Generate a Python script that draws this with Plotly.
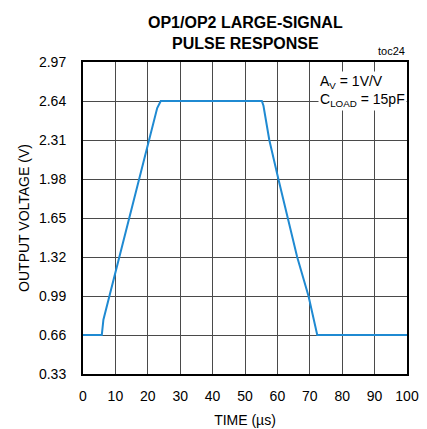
import plotly.graph_objects as go

# Data
time_us = [0, 5.8, 6.3, 11.2, 20.2, 22.9, 24.0, 55.2, 55.7, 57.5, 60.3, 63.2, 66.1, 69.6, 72.3, 100]
voltage = [0.66, 0.66, 0.79, 1.32, 2.31, 2.58, 2.64, 2.64, 2.60, 2.31, 1.98, 1.65, 1.32, 0.99, 0.66, 0.66]

x_ticks = [0, 10, 20, 30, 40, 50, 60, 70, 80, 90, 100]
y_ticks = [0.33, 0.66, 0.99, 1.32, 1.65, 1.98, 2.31, 2.64, 2.97]
y_tick_labels = ["0.33", "0.66", "0.99", "1.32", "1.65", "1.98", "2.31", "2.64", "2.97"]

FONT = "Liberation Sans Narrow, Arial Narrow, Liberation Sans, Arial, sans-serif"

fig = go.Figure()
fig.add_trace(go.Scatter(x=time_us, y=voltage, mode="lines",
                         line=dict(color="#1f8ad2", width=2), showlegend=False))

fig.update_layout(
    width=427, height=429,
    margin=dict(l=83, r=20, t=62, b=55, autoexpand=False),
    paper_bgcolor="white", plot_bgcolor="white",
    font=dict(family=FONT, color="black", size=14),
)

fig.update_xaxes(range=[0, 100], tickvals=x_ticks, showgrid=True, automargin=False,
                 gridcolor="#4a4a4a", gridwidth=1, showline=True, linecolor="black",
                 linewidth=2, mirror=True, zeroline=False, ticks="",
                 ticklabelstandoff=8,
                 title=dict(text="TIME (µs)", font=dict(size=14), standoff=12),
                 tickfont=dict(size=14))
fig.update_yaxes(range=[0.33, 2.97], tickvals=y_ticks, ticktext=y_tick_labels,
                 showgrid=True, gridcolor="#4a4a4a", gridwidth=1, showline=True,
                 automargin=False,
                 linecolor="black", linewidth=2, mirror=True, zeroline=False, ticks="",
                 ticklabelstandoff=12,
                 title=dict(text="OUTPUT VOLTAGE (V)", font=dict(size=14), standoff=6),
                 tickfont=dict(size=14))

fig.add_annotation(text="<b>OP1/OP2 LARGE-SIGNAL</b>", xref="paper", yref="paper",
                   x=0.5, y=1.128, xanchor="center", yanchor="middle", showarrow=False,
                   font=dict(family=FONT, size=16, color="black"))
fig.add_annotation(text="<b>PULSE RESPONSE</b>", xref="paper", yref="paper",
                   x=0.5, y=1.058, xanchor="center", yanchor="middle", showarrow=False,
                   font=dict(family=FONT, size=16, color="black"))
fig.add_annotation(text="A<sub>V</sub> = 1V/V<br>C<sub>LOAD</sub> = 15pF",
                   xref="paper", yref="paper", x=0.725, y=0.97,
                   xanchor="left", yanchor="top", align="left", showarrow=False,
                   bgcolor="white", borderpad=1,
                   font=dict(family=FONT, size=14, color="black"))
fig.add_annotation(text="toc24", xref="paper", yref="paper", x=1.0, y=1.01,
                   xanchor="right", yanchor="bottom", showarrow=False,
                   font=dict(family=FONT, size=11, color="black"))

fig.write_html("out.html", config={"displayModeBar": False},
               post_script="document.body.style.margin='0';")
